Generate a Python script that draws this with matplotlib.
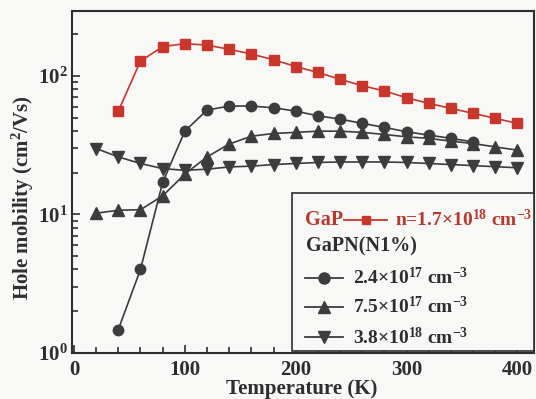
import matplotlib
matplotlib.use("Agg")
import matplotlib.pyplot as plt
from matplotlib.lines import Line2D
from matplotlib.patches import Rectangle
from matplotlib.ticker import MultipleLocator, LogLocator, LogFormatterMathtext, NullFormatter

plt.rcParams['font.family'] = ['Liberation Serif', 'DejaVu Serif']
plt.rcParams['font.weight'] = 'bold'
plt.rcParams['mathtext.fontset'] = 'custom'
plt.rcParams['mathtext.rm'] = 'Liberation Serif:bold'
plt.rcParams['mathtext.it'] = 'Liberation Serif:italic:bold'
plt.rcParams['mathtext.bf'] = 'Liberation Serif:bold'

# ---- data ----
T_gap = [40, 60, 80, 100, 120, 140, 160, 180, 200, 220, 240, 260, 280, 300, 320, 340, 360, 380, 400]
mu_gap = [55.7, 128, 163, 171, 167, 156, 144, 131, 117, 106, 94.6, 85, 77.9, 69.6, 63.4, 58.3, 53.7, 49.4, 45.4]

T_c = [40, 60, 80, 100, 120, 140, 160, 180, 200, 220, 240, 260, 280, 300, 320, 340, 360]
mu_c = [1.47, 4.0, 17.0, 39.9, 56.7, 60.6, 60.6, 58.9, 55.7, 51.5, 48.8, 45.4, 42.5, 39.5, 37.4, 35.4, 33.4]

T_t = [20, 40, 60, 80, 100, 120, 140, 160, 180, 200, 220, 240, 260, 280, 300, 320, 340, 360, 380, 400]
mu_t = [10.2, 10.7, 10.8, 13.6, 19.5, 26.0, 32.2, 36.7, 38.4, 39.1, 39.9, 39.9, 39.1, 37.8, 36.3, 35.4, 33.8, 32.5, 30.7, 29.1]

T_d = [20, 40, 60, 80, 100, 120, 140, 160, 180, 200, 220, 240, 260, 280, 300, 320, 340, 360, 380, 400]
mu_d = [29.9, 26.0, 23.3, 21.4, 20.8, 21.2, 22.0, 22.3, 22.9, 23.3, 23.7, 23.9, 23.9, 23.9, 23.7, 23.3, 22.9, 22.5, 22.1, 21.7]

xticks = [0, 100, 200, 300, 400]
leg_gap_name = "GaP"
leg_gap_label = r"n=1.7×10$^{18}$ cm$^{-3}$"
leg_group = "GaPN(N1%)"
leg_labels = [r"2.4×10$^{17}$ cm$^{-3}$", r"7.5×10$^{17}$ cm$^{-3}$", r"3.8×10$^{18}$ cm$^{-3}$"]

# ---- style ----
RED = "#c8362c"
REDTXT = "#b8372e"
DARK = "#3c3c3c"
TXT = "#2e2e2e"
BG = "#f8f8f6"

fig = plt.figure(figsize=(5.36, 3.99), dpi=100, facecolor=BG)
ax = fig.add_axes([0.1349, 0.116, 0.8614, 0.8576])
ax.set_facecolor(BG)

ms = 7
ax.plot(T_gap, mu_gap, '-', color=RED, lw=1.2, marker='s', ms=ms, mfc=RED, mec=RED)
ax.plot(T_c, mu_c, '-', color=DARK, lw=1.2, marker='o', ms=ms + 0.5, mfc=DARK, mec=DARK)
ax.plot(T_t, mu_t, '-', color=DARK, lw=1.2, marker='^', ms=ms + 1, mfc=DARK, mec=DARK)
ax.plot(T_d, mu_d, '-', color=DARK, lw=1.2, marker='v', ms=ms + 1, mfc=DARK, mec=DARK)

ax.set_yscale('log')
ax.set_xlim(-1.5, 415)
ax.set_ylim(1, 297)
ax.set_xticks(xticks)
ax.xaxis.set_minor_locator(MultipleLocator(20))
ax.yaxis.set_major_locator(LogLocator(base=10, numticks=10))
ax.yaxis.set_major_formatter(LogFormatterMathtext())
ax.yaxis.set_minor_locator(LogLocator(base=10, subs=range(2, 10), numticks=20))
ax.yaxis.set_minor_formatter(NullFormatter())

ax.tick_params(which='both', direction='in', top=False, right=False, colors=TXT,
               labelsize=15, width=1.2)
ax.tick_params(which='major', length=6, pad=5)
ax.tick_params(which='minor', length=4)
ax.tick_params(axis='y', pad=3)
for sp in ax.spines.values():
    sp.set_linewidth(1.5)
    sp.set_color(TXT)

ax.set_xlabel("Temperature (K)", fontsize=15, color=TXT, fontweight='bold')
ax.set_ylabel(r"Hole mobility (cm$^{2}$/Vs)", fontsize=15, color=TXT, fontweight='bold')
ax.xaxis.set_label_coords(0.497, -0.077)
ax.yaxis.set_label_coords(-0.079, 0.454)

# ---- legend box (manual) ----
box = Rectangle((0.475, 0.005), 0.525, 0.463, transform=ax.transAxes,
                facecolor=BG, edgecolor=TXT, lw=1.2, zorder=5)
ax.add_patch(box)

def px2ax(x, y):
    return (x - 72.3) / 461.7, (352.7 - y) / 342.0

fs = 14.5
# row 1
x, y = px2ax(305, 220)
ax.text(x, y, leg_gap_name, transform=ax.transAxes, color=REDTXT, fontsize=fs,
        fontweight='bold', va='center', ha='left', zorder=6)
x1, y1 = px2ax(344, 220)
x2, _ = px2ax(387, 220)
xm, _ = px2ax(366, 220)
ax.add_line(Line2D([x1, x2], [y1, y1], transform=ax.transAxes, color=RED, lw=1.3, zorder=6))
ax.add_line(Line2D([xm], [y1], transform=ax.transAxes, color=RED, marker='s', ms=6, zorder=7))
x, _ = px2ax(395, 220)
ax.text(x, y1, leg_gap_label, transform=ax.transAxes, color=REDTXT, fontsize=14,
        fontweight='bold', va='center', ha='left', zorder=6)
# row 2
x, y = px2ax(306, 247)
ax.text(x, y, leg_group, transform=ax.transAxes, color=TXT, fontsize=fs,
        fontweight='bold', va='center', ha='left', zorder=6)
# rows 3-5
rows_y = [278, 307, 337]
marks = ['o', '^', 'v']
for lab, ry, mk in zip(leg_labels, rows_y, marks):
    x1, yy = px2ax(305, ry)
    x2, _ = px2ax(343, ry)
    xm, _ = px2ax(324, ry)
    ax.add_line(Line2D([x1, x2], [yy, yy], transform=ax.transAxes, color=DARK, lw=1.3, zorder=6))
    ax.add_line(Line2D([xm], [yy], transform=ax.transAxes, color=DARK, marker=mk, ms=8, zorder=7))
    x, _ = px2ax(353, ry)
    ax.text(x, yy, lab, transform=ax.transAxes, color=TXT, fontsize=14,
            fontweight='bold', va='center', ha='left', zorder=6)

fig.savefig("out.png", dpi=100, facecolor=BG)
